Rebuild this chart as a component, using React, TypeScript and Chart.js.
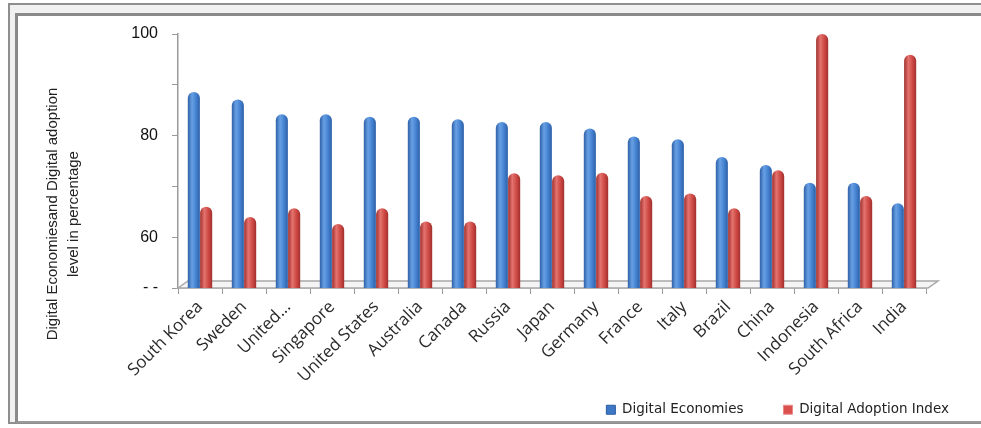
import React, { useEffect, useRef } from "react";
import { Chart, registerables } from "chart.js";

Chart.register(...registerables);

const categories = [
  "South Korea", "Sweden", "United...", "Singapore", "United States", "Australia",
  "Canada", "Russia", "Japan", "Germany", "France", "Italy", "Brazil", "China",
  "Indonesia", "South Africa", "India",
];
const digitalEconomies = [88.6, 87.1, 84.2, 84.2, 83.7, 83.7, 83.2, 82.7, 82.7, 81.4, 79.8, 79.3, 75.8, 74.2, 70.7, 70.7, 66.7];
const digitalAdoptionIndex = [66.0, 64.0, 65.7, 62.6, 65.7, 63.1, 63.1, 72.6, 72.2, 72.7, 68.1, 68.6, 65.7, 73.2, 100, 68.1, 95.9];
const seriesNames = ["Digital Economies", "Digital Adoption Index"];
const yMin = 50;
const yMax = 100;
const yStep = 10;
const yLabels: Record<number, string> = { 100: "100", 80: "80", 60: "60", 50: "- -" };
const yTitle = ["Digital Economiesand Digital adoption", "level in percentage"];

const CAT_PCT = 0.56;
const BAR_PCT = 0.98;

function cylinder(cols: [string, string, string], ds: number) {
  return (c: any) => {
    const chart = c.chart;
    const xs = chart && chart.scales && chart.scales.x;
    if (c.type !== "data" || !xs || !xs.width) return cols[1];
    const W = xs.width / categories.length;
    const center = xs.getPixelForValue(c.dataIndex);
    const groupW = W * CAT_PCT;
    const slot = groupW / 2;
    const barW = slot * BAR_PCT;
    const cx = center - groupW / 2 + slot * (ds + 0.5);
    const g = chart.ctx.createLinearGradient(cx - barW / 2, 0, cx + barW / 2, 0);
    g.addColorStop(0, cols[0]);
    g.addColorStop(0.35, cols[2]);
    g.addColorStop(0.7, cols[1]);
    g.addColorStop(1, cols[0]);
    return g;
  };
}

const floorPlugin = {
  id: "floor3d",
  beforeDatasetsDraw(chart: any) {
    const { left, right, bottom } = chart.chartArea;
    const ctx = chart.ctx;
    ctx.save();
    ctx.beginPath();
    ctx.moveTo(left, bottom);
    ctx.lineTo(left + 10, bottom - 7);
    ctx.lineTo(right + 12, bottom - 7);
    ctx.lineTo(right + 2, bottom);
    ctx.closePath();
    ctx.fillStyle = "#f4f4f4";
    ctx.fill();
    ctx.strokeStyle = "#a8a8a8";
    ctx.lineWidth = 1.5;
    ctx.stroke();
    ctx.restore();
  },
};

const yTitlePlugin = {
  id: "yTitle",
  afterDraw(chart: any) {
    const ctx = chart.ctx;
    ctx.save();
    ctx.translate(53, 214);
    ctx.rotate(-Math.PI / 2);
    ctx.font = "15px 'Liberation Sans', Arial, sans-serif";
    ctx.fillStyle = "#222";
    ctx.textAlign = "center";
    ctx.textBaseline = "middle";
    yTitle.forEach((t, i) => ctx.fillText(t, 0, i * 21));
    ctx.restore();
  },
};

// keeps the wide gap between legend items without making the legend box tall,
// and lets the legend run past the plot's right edge as in the original
const legendGapPlugin = {
  id: "legendGap",
  afterInit(chart: any) {
    const lg = chart.legend;
    if (!lg) return;
    const fit = lg.fit.bind(lg);
    lg.fit = function () {
      fit();
      this.height = Math.min(this.height, 34);
    };
    const draw = lg.draw.bind(lg);
    lg.draw = function () {
      const t = this.top, l = this.left, r = this.right;
      this.top = t - 29;
      this.left = l + 22;
      this.right = r + 22;
      draw();
      this.top = t;
      this.left = l;
      this.right = r;
    };
  },
};

export default function App() {
  const ref = useRef<HTMLCanvasElement>(null);
  useEffect(() => {
    if (!ref.current) return;
    const chart = new Chart(ref.current, {
      type: "bar",
      data: {
        labels: categories,
        datasets: [
          {
            label: seriesNames[0],
            data: digitalEconomies,
            backgroundColor: cylinder(["#2d5fa6", "#4280cf", "#68a0e4"], 0),
            borderRadius: { topLeft: 6, topRight: 6, bottomLeft: 0, bottomRight: 0 },
            borderSkipped: false,
            categoryPercentage: CAT_PCT,
            barPercentage: BAR_PCT,
          },
          {
            label: seriesNames[1],
            data: digitalAdoptionIndex,
            backgroundColor: cylinder(["#a0302d", "#cd4844", "#e4726e"], 1),
            borderRadius: { topLeft: 6, topRight: 6, bottomLeft: 0, bottomRight: 0 },
            borderSkipped: false,
            categoryPercentage: CAT_PCT,
            barPercentage: BAR_PCT,
          },
        ],
      },
      options: {
        responsive: false,
        animation: false,
        layout: { padding: { top: 34, left: 0, right: 14, bottom: 2 } },
        scales: {
          x: {
            grid: { display: true, drawOnChartArea: false, drawTicks: true, tickLength: 6, color: "#9a9a9a", offset: true },
            border: { display: true, color: "#a8a8a8", width: 1.5 },
            ticks: {
              autoSkip: false,
              maxRotation: 45,
              minRotation: 45,
              padding: 3,
              color: "#2a2a2a",
              font: { family: "'Open Sans', sans-serif", size: 17 },
            },
            afterFit(s: any) { s.height = 104; },
          },
          y: {
            min: yMin,
            max: yMax,
            grid: { display: true, drawOnChartArea: false, drawTicks: true, tickLength: 6, color: "#9a9a9a" },
            border: { display: true, color: "#9a9a9a", width: 1.5 },
            ticks: {
              stepSize: yStep,
              padding: 14,
              color: "#111",
              font: { family: "'Liberation Sans', Arial, sans-serif", size: 16 },
              callback: (v: any) => (yLabels[v as number] ?? ""),
            },
            afterFit(s: any) { s.width = 178; },
          },
          yR: {
            position: "right",
            display: true,
            grid: { display: false },
            border: { display: false },
            ticks: { display: false },
            afterFit(s: any) { s.width = 41; },
          },
        },
        plugins: {
          legend: {
            position: "bottom",
            align: "end",
            labels: {
              boxWidth: 9,
              boxHeight: 9,
              padding: 40,
              color: "#222",
              font: { family: "'DejaVu Sans', sans-serif", size: 13.5 },
              generateLabels: (chart: any) =>
                chart.data.datasets.map((d: any, i: number) => ({
                  text: d.label,
                  fillStyle: i === 0 ? "#3d78c6" : "#d9504c",
                  strokeStyle: i === 0 ? "#2c5c9e" : "#e88a87",
                  lineWidth: 1,
                  datasetIndex: i,
                  fontColor: "#222",
                })),
            },
          },
          tooltip: { enabled: false },
        },
      },
      plugins: [floorPlugin, yTitlePlugin, legendGapPlugin],
    });
    return () => chart.destroy();
  }, []);

  return (
    <div style={{ position: "fixed", left: 0, top: 0, width: 981, height: 428, overflow: "hidden", background: "#fff" }}>
      <div style={{ position: "absolute", left: 8, top: 3, width: 1000, height: 417, border: "2px solid #8e8e8e", background: "#f1f1f1" }} />
      <div style={{ position: "absolute", left: 15, top: 13, width: 990, height: 405, borderTop: "3px solid #8a8a8a", borderLeft: "3px solid #8a8a8a", borderBottom: "2px solid #9a9a9a", background: "#fff" }} />
      <canvas ref={ref} width={981} height={428} style={{ position: "absolute", left: 0, top: 0 }} />
    </div>
  );
}
